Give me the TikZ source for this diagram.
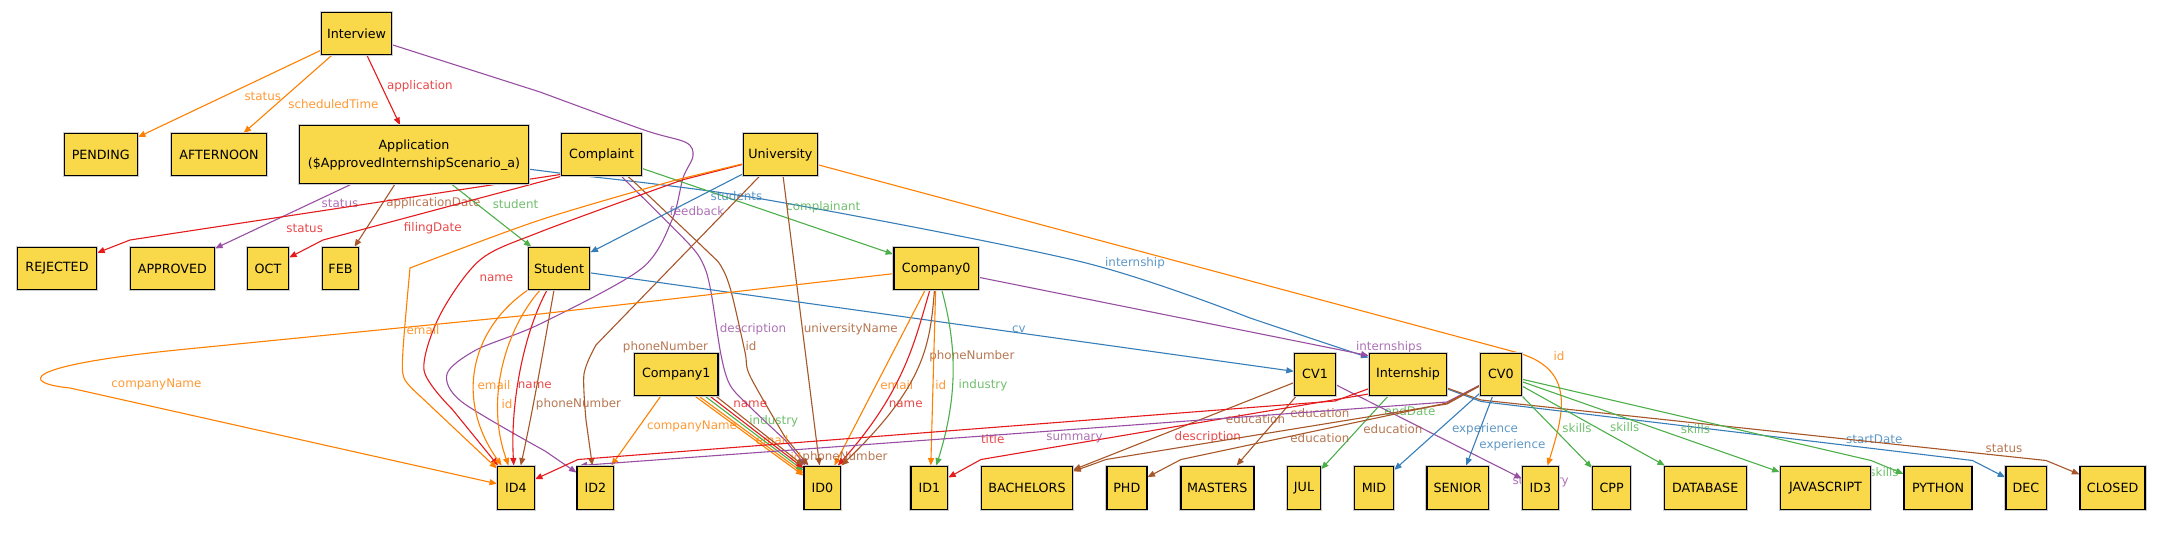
\documentclass[tikz,border=0pt]{standalone}
\usepackage{fontspec}
\setmainfont{DejaVu Sans}
\usetikzlibrary{arrows.meta,backgrounds}
\definecolor{objfill}{RGB}{249,216,74}
\definecolor{cred}{RGB}{228,26,28}
\definecolor{cblue}{RGB}{55,126,184}
\definecolor{cgreen}{RGB}{77,175,74}
\definecolor{cpurple}{RGB}{152,78,163}
\definecolor{corange}{RGB}{255,127,0}
\definecolor{cbrown}{RGB}{166,86,40}

\begin{document}
\begin{tikzpicture}[x=1pt,y=-1pt,
    obj/.style={draw=black, line width=1.4pt, fill=objfill, inner sep=0pt,
        minimum height=42pt, font=\fontsize{12.7}{15}\selectfont,
        preaction={draw=black!20, line width=3.2pt}},
    rel/.style={line width=1.1pt, -{Triangle[length=7.5pt,width=6pt]}},
    lbl/.style={font=\fontsize{11.9}{14}\selectfont, inner sep=0pt, text opacity=0.8}]
\useasboundingbox (0,0) rectangle (2170,534);

% Top rows
\node[obj, minimum width=70pt] (interview) at (356.6,33.4) {Interview};
\node[obj, minimum width=73pt] (pending) at (100.8,154.7) {PENDING};
\node[obj, minimum width=95pt] (afternoon) at (219,154.7) {AFTERNOON};
\node[obj, minimum width=229pt, minimum height=58pt, align=center,
      font=\fontsize{12.7}{18}\selectfont] (application) at (414,154.7)
      {Application\\(\$ApprovedInternshipScenario\_a)};
\node[obj, minimum width=80pt] (complaint) at (601.7,154.7) {Complaint};
\node[obj, minimum width=74pt] (university) at (780.4,154.7) {University};

% Second row
\node[obj, minimum width=79pt] (rejected) at (57,268.5) {REJECTED};
\node[obj, minimum width=84pt] (approved) at (172.4,268.5) {APPROVED};
\node[obj, minimum width=41pt] (oct) at (268,268.5) {OCT};
\node[obj, minimum width=36.5pt] (feb) at (340.5,268.5) {FEB};
\node[obj, minimum width=61.4pt] (student) at (559,268.5) {Student};
\node[obj, minimum width=84.8pt] (company0) at (936.2,268.8) {Company0};

% Third row
\node[obj, minimum width=83.5pt] (company1) at (676.3,374.3) {Company1};
\node[obj, minimum width=41pt] (cv1) at (1315,374.3) {CV1};
\node[obj, minimum width=77.5pt] (internship) at (1408,374.3) {Internship};
\node[obj, minimum width=41pt] (cv0) at (1500.9,374.3) {CV0};

% Values
\node[obj, minimum width=36.5pt, minimum height=43.5pt] (id4) at (516,488) {ID4};
\node[obj, minimum width=36.5pt, minimum height=43.5pt] (id2) at (595.4,488) {ID2};
\node[obj, minimum width=36.5pt, minimum height=43.5pt] (id0) at (822.4,488) {ID0};
\node[obj, minimum width=36.5pt, minimum height=43.5pt] (id1) at (929.3,488) {ID1};
\node[obj, minimum width=91pt, minimum height=43.5pt] (bachelors) at (1027,488) {BACHELORS};
\node[obj, minimum width=40pt, minimum height=43.5pt] (phd) at (1126.8,488) {PHD};
\node[obj, minimum width=73pt, minimum height=43.5pt] (masters) at (1217.3,488) {MASTERS};
\node[obj, minimum width=33pt, minimum height=43.5pt] (jul) at (1304,488) {JUL};
\node[obj, minimum width=39pt, minimum height=43.5pt] (mid) at (1374,488) {MID};
\node[obj, minimum width=61.5pt, minimum height=43.5pt] (senior) at (1457.7,488) {SENIOR};
\node[obj, minimum width=36pt, minimum height=43.5pt] (id3) at (1540.5,488) {ID3};
\node[obj, minimum width=37.8pt, minimum height=43.5pt] (cpp) at (1611.6,488) {CPP};
\node[obj, minimum width=82pt, minimum height=43.5pt] (database) at (1705.2,488) {DATABASE};
\node[obj, minimum width=90.5pt, minimum height=43.5pt] (javascript) at (1825.5,488) {JAVASCRIPT};
\node[obj, minimum width=67.7pt, minimum height=43.5pt] (python) at (1938,488) {PYTHON};
\node[obj, minimum width=40.4pt, minimum height=43.5pt] (dec) at (2026,488) {DEC};
\node[obj, minimum width=65pt, minimum height=43.5pt] (closed) at (2112.6,488) {CLOSED};

\begin{scope}[on background layer]
% Interview
\draw[rel, corange] (interview) -- (pending) node[lbl] (l1) at (262.8,96.5) {status};
\draw[rel, corange] (interview) -- (afternoon) node[lbl] (l2) at (333.4,104.3) {scheduledTime};
\draw[rel, cred] (interview) -- (application) node[lbl] (l3) at (419.9,86.4) {application};
\draw[rel, cpurple] (interview) -- plot[smooth, tension=0.5] coordinates {(540,92) (644,130) (686,142.5) (693,156) (683,178) (672,220) (641,269) (540,324) (476,350) (447,374) (462,402) (545,451)} -- ([yshift=-7pt]id2.north west) node[lbl] (l4) at (697,211.5) {feedback};

% Application
\draw[rel, cpurple] (application) -- (approved) node[lbl] (l5) at (340,203.7) {status};
\draw[rel, cbrown] (application) -- (feb) node[lbl] (l6) at (433.3,203.7) {applicationDate};
\draw[rel, cgreen] (application) -- (student) node[lbl] (l7) at (515.5,203.7) {student};
\draw[rel, cblue] (application) -- plot[smooth] coordinates {(575,175) (762,199) (1082,262) (1250,318)} -- ([yshift=-5pt]internship.north west) node[lbl] (l8) at (1135,263.7) {internship};

% Complaint
\draw[rel, cred] ([yshift=2pt]complaint.south west) -- (130,240) -- (rejected) node[lbl] (l9) at (304.7,228) {status};
\draw[rel, cred] (complaint.south west) -- (323,240) -- (oct) node[lbl] (l10) at (432.8,228) {filingDate};
\draw[rel, cgreen] (complaint) -- (company0) node[lbl] (l11) at (823.3,206.8) {complainant};
\draw[rel, cpurple] (complaint) -- plot[smooth] coordinates {(625,180) (689,244) (704,266) (711,292) (721,355) (730,385) (749,406) (785,440)} -- ([xshift=2pt]id0.north west) node[lbl] (l12) at (753,329.7) {description};
\draw[rel, cbrown] (complaint) -- plot[smooth] coordinates {(632,180) (706,250) (721,266) (731,291) (745,352) (750,376) (785,437)} -- ([xshift=5pt]id0.north west) node[lbl] (l13) at (751,346) {id};

% University
\draw[rel, cblue] (university) -- (student) node[lbl] (l14) at (736.4,195.8) {students};
\draw[rel, cred] (university) -- plot[smooth] coordinates {(682,180) (540,232) (480,260) (440,315) (424,370) (452,409)} -- ([xshift=1pt]id4.north west) node[lbl] (l15) at (496.4,278.1) {name};
\draw[rel, corange] (university) -- plot[smooth] coordinates {(676,180) (540,220) (410,268)} -- plot[smooth] coordinates {(410,268) (403,350) (404,378) (420,396)} -- ([yshift=-3pt]id4.north west) node[lbl] (l16) at (423,329.7) {email};
\draw[rel, cbrown] (university) -- plot[smooth] coordinates {(596,345) (584,374) (586,420)} -- (id2) node[lbl] (l17) at (665.5,347) {phoneNumber};
\draw[rel, cbrown] (university) -- (id0) node[lbl] (l18) at (850.8,329.7) {universityName};
\draw[rel, corange] (university) -- (1515,352) .. controls (1575,368) and (1565,410) .. ([xshift=7pt]id3.north) node[lbl] (l19) at (1559,356) {id};

% Student
\draw[rel, cblue] (student) -- (cv1) node[lbl] (l20) at (1018.8,329.7) {cv};
\draw[rel, corange] (student) .. controls (470,330) and (455,400) .. ([xshift=4.6pt]id4.north west) node[lbl] (l21) at (494,384.8) {email};
\draw[rel, corange] (student) .. controls (505,330) and (485,400) .. ([xshift=11.5pt]id4.north west) node[lbl] (l22) at (507,404) {id};
\draw[rel, cred] (student) .. controls (525,330) and (510,400) .. ([xshift=16.7pt]id4.north west) node[lbl] (l23) at (534.8,384.8) {name};
\draw[rel, cbrown] ([xshift=-5pt]student.south) .. controls (545,340) and (535,400) .. ([xshift=23.7pt]id4.north west) node[lbl] (l24) at (578.5,404) {phoneNumber};

% Company0
\draw[rel, corange] (company0) -- (540,314) -- (177,350) .. controls (20,366) and (20,383) .. (70,388) -- (id4) node[lbl] (l25) at (156.4,384.8) {companyName};
\draw[rel, cpurple] (company0) -- ([yshift=-3pt]internship.north west) node[lbl] (l26) at (1389,347) {internships};
\draw[rel, corange] (company0) -- ([xshift=-7pt]id0.north east) node[lbl] (l27) at (896.8,384.8) {email};
\draw[rel, cred] (company0) .. controls (915,340) and (905,390) .. ([xshift=-3.5pt]id0.north east) node[lbl] (l28) at (905.7,403.9) {name};
\draw[rel, cbrown] (company0) .. controls (930,345) and (925,385) .. (id0.north east) node[lbl] (l29) at (971.9,356.1) {phoneNumber};
\draw[rel, corange] (company0) -- ([xshift=1.5pt]id1.north) node[lbl] (l30) at (940.8,384.8) {id};
\draw[rel, cgreen] (company0) .. controls (955,340) and (960,390) .. ([xshift=7pt]id1.north) node[lbl] (l31) at (983,384.8) {industry};

% Company1
\draw[rel, corange] (company1) -- (id2) node[lbl] (l32) at (692,426.5) {companyName};
\draw[rel, corange] ([xshift=-24pt]company1.south east) -- ([yshift=-10pt]id0.north west) node[lbl] (l33) at (796,456.9) {id};
\draw[rel, corange] ([xshift=-20pt]company1.south east) -- ([yshift=-7.5pt]id0.north west) node[lbl] (l34) at (772,440.4) {email};
\draw[rel, cgreen] ([xshift=-14pt]company1.south east) -- ([yshift=-5pt]id0.north west) node[lbl] (l35) at (773.8,421.3) {industry};
\draw[rel, cred] ([xshift=-9pt]company1.south east) -- ([yshift=-2.5pt]id0.north west) node[lbl] (l36) at (750.2,403.9) {name};
\draw[rel, cbrown] ([xshift=-3pt]company1.south east) -- (id0.north west) node[lbl] (l37) at (845,456.9) {phoneNumber};

% CV1
\draw[rel, cbrown] (cv1) -- (bachelors) node[lbl] (l38) at (1255.5,419.5) {education};
\draw[rel, cbrown] (cv1) -- (masters) node[lbl] (l39) at (1319.9,412.6) {education};
\draw[rel, cpurple] (cv1) -- (id3) node[lbl] (l40) at (1540.6,482.1) {summary};

% Internship
\draw[rel, cred] (internship) -- (1335,401) -- (578,459.5) -- (id4) node[lbl] (l41) at (992.7,438.6) {title};
\draw[rel, cred] ([yshift=2pt]internship.south west) -- (981,459.5) -- (id1) node[lbl] (l42) at (1207.8,437.7) {description};
\draw[rel, cgreen] (internship) -- (jul) node[lbl] (l43) at (1409.9,410.8) {endDate};
\draw[rel, cblue] (internship) -- (1481,401.5) -- (1972.5,460.5) -- (dec) node[lbl] (l44) at (1874.3,439.5) {startDate};
\draw[rel, cbrown] (internship) -- (1481,400) -- (2046,460.5) -- (closed) node[lbl] (l45) at (2004,448.2) {status};

% CV0
\draw[rel, cpurple] (cv0) -- (1447,402) -- ([xshift=3pt]id2.north west) node[lbl] (l46) at (1074.5,438.6) {summary};
\draw[rel, cbrown] (cv0) -- (1447,403) -- (1181,459.5) -- (phd) node[lbl] (l47) at (1392.9,429.1) {education};
\draw[rel, cbrown] (cv0) -- (1447,404) -- (1106,459.5) -- (bachelors) node[lbl] (l48) at (1319.9,437.7) {education};
\draw[rel, cblue] (cv0) -- (mid) node[lbl] (l49) at (1485,429.1) {experience};
\draw[rel, cblue] (cv0) -- (senior) node[lbl] (l50) at (1512.4,445.6) {experience};
\draw[rel, cgreen] (cv0) -- (cpp) node[lbl] (l51) at (1577,427.9) {skills};
\draw[rel, cgreen] (cv0) -- (database) node[lbl] (l52) at (1624.7,427) {skills};
\draw[rel, cgreen] (cv0) -- (javascript) node[lbl] (l53) at (1695.4,429) {skills};
\draw[rel, cgreen] (cv0) -- (1871,460.5) -- (python) node[lbl] (l54) at (1884,472.2) {skills};
\end{scope}
\end{tikzpicture}
\end{document}
